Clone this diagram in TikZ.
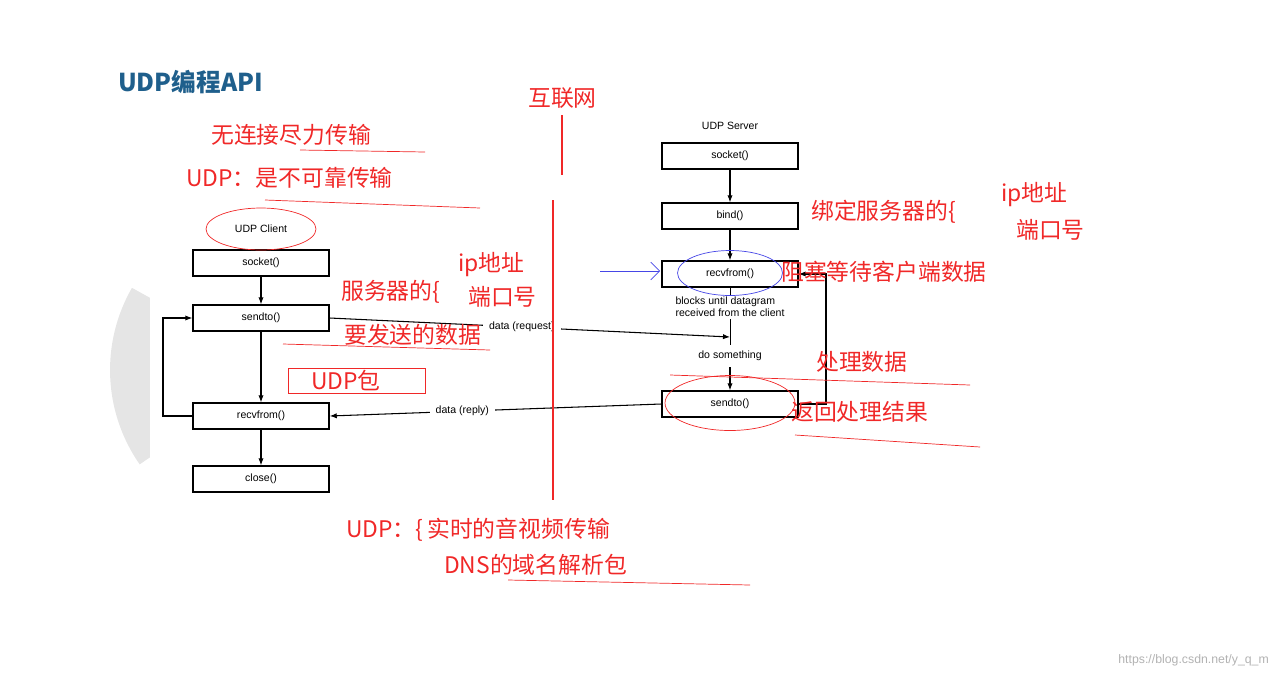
\documentclass[tikz,border=0pt]{standalone}
\usepackage{fontspec}
\setmainfont{Liberation Sans}
\newfontfamily\cjk{Noto Sans CJK SC}
\usetikzlibrary{arrows.meta}
\definecolor{titleblue}{RGB}{31,95,140}
\definecolor{pen}{RGB}{240,40,40}
\definecolor{bluepen}{RGB}{70,70,230}
\begin{document}
\begin{tikzpicture}[
    x=0.02cm, y=-0.02cm,
    call/.style = {
      draw, thick, fill=white, minimum width=2.72cm, minimum height=0.52cm,
      inner sep=0pt, font=\fontsize{6}{7}\selectfont
    },
    label/.style = { font=\fontsize{6}{7}\selectfont, align=left },
    note/.style = { text=pen, font=\cjk\fontsize{13}{15}\selectfont, anchor=west },
    flow/.style = { -{Latex[length=4pt]}, semithick }
  ]
  \useasboundingbox (0,0) rectangle (1280,680);
  \draw[line width=0.8cm, black!10] (275,370) ++(150:2.9cm) arc (150:215:2.9cm);
  \fill[white] (150,230) rectangle (330,510);
  \node[anchor=west, text=titleblue, font=\cjk\bfseries\fontsize{14}{16}\selectfont] (title) at (112,82) {UDP编程API};

  % client side
  \node[label] (client) at (261,229) {UDP Client};
  \node[call] (csocket) at (261,263) {socket()};
  \node[call] (csend) at (261,318) {sendto()};
  \node[call] (crecv) at (261,416) {recvfrom()};
  \node[call] (cclose) at (261,479) {close()};
  \draw[flow] (csocket) -- (csend);
  \draw[flow] (csend) -- (crecv);
  \draw[flow] (crecv) -- (cclose);
  \draw[flow] (crecv.west) -- (163,416) |- (csend.west);

  % server side
  \node[label] (server) at (730,126) {UDP Server};
  \node[call] (ssocket) at (730,156) {socket()};
  \node[call] (sbind) at (730,216) {bind()};
  \node[call] (srecv) at (730,274) {recvfrom()};
  \node[label, fill=white, inner sep=1pt] (blocks) at (730,307) {blocks until datagram\\received from the client};
  \coordinate (sreq) at (730,337);
  \node[label, fill=white] (work) at (730,356) {do something};
  \node[call] (ssend) at (730,404) {sendto()};
  \draw[flow] (ssocket) -- (sbind);
  \draw[flow] (sbind) -- (srecv);
  \draw (srecv) -- (blocks);
  \draw (blocks) -- (work);
  \draw[flow] (work) -- (ssend);
  \draw[flow] (ssend.east) -- (826,404) |- (srecv.east);

  % data
  \draw[flow] (csend.east) -- node[label, fill=white, pos=0.48] (req) {data (request)} (sreq);
  \draw[flow] (ssend.west) -- node[label, fill=white, pos=0.6] (rep) {data (reply)} (crecv.east);

  % notes
  \draw[pen, thick] (562,115) -- (562,175);
  \draw[pen, thick] (553,200) -- (553,500);
  \node[note] (net) at (522,98) {互联网};
  \node[note] (n1) at (205,135) {无连接尽力传输};
  \node[note] (n2) at (180,178) {UDP：是不可靠传输};
  \draw[pen] (300,150) -- (425,152);
  \draw[pen] (265,200) -- (480,208);
  \draw[pen] (261,229) ellipse (1.1cm and 0.42cm);
  \node[note] (n3) at (335,292) {服务器的\{};
  \node[note] (n4) at (452,265) {ip地址};
  \node[note] (n5) at (462,297) {端口号};
  \node[note] (n6) at (338,335) {要发送的数据};
  \draw[pen] (283,344) -- (490,350);
  \draw[pen] (288,368) rectangle (425,393);
  \node[note] (n7) at (305,381) {UDP包};
  \node[note] (n8) at (805,212) {绑定服务器的\{};
  \node[note] (n9) at (995,195) {ip地址};
  \node[note] (n10) at (1010,230) {端口号};
  \node[note] (n11) at (775,272) {阻塞等待客户端数据};
  \node[note] (n12) at (810,362) {处理数据};
  \draw[pen] (670,375) -- (970,385);
  \node[note] (n13) at (785,412) {返回处理结果};
  \draw[pen] (795,435) -- (980,447);
  \draw[pen] (730,403) ellipse (1.3cm and 0.55cm);
  \draw[bluepen] (730,273) ellipse (1.05cm and 0.45cm);
  \draw[bluepen, -{Straight Barb[length=5pt]}] (600,271) -- (660,271);
  \node[note] (n14) at (340,530) {UDP：\{\,实时的音视频传输};
  \node[note] (n15) at (438,565) {DNS的域名解析包};
  \draw[pen] (508,580) -- (750,585);
  \node[anchor=south east, text=black!30, font=\fontsize{7}{8}\selectfont] (mark) at (1275,672) {https://blog.csdn.net/y\_q\_m};
\end{tikzpicture}
\end{document}
